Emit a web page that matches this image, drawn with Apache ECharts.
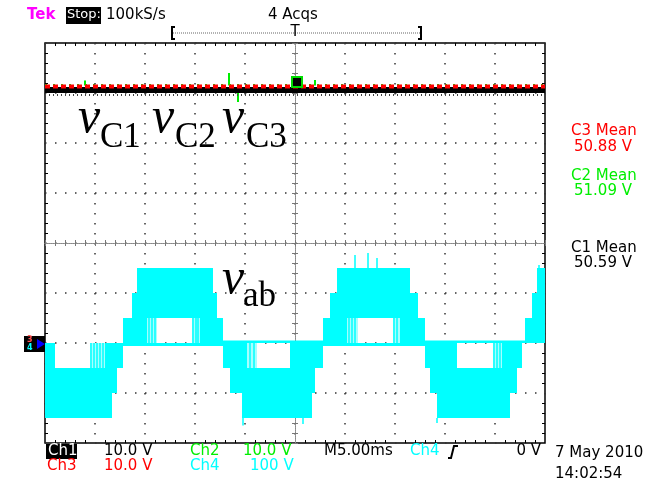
<!DOCTYPE html>
<html><head><meta charset="utf-8">
<script src="https://cdn.jsdelivr.net/npm/echarts@6/dist/echarts.min.js"></script>
<style>html,body{margin:0;padding:0;background:#fff}#c{width:659px;height:482px}</style>
</head><body><div id="c"></div>
<script>
// ---- Data ----
// time axis: 0..50 ms (5 ms/div); Ch4 axis: volts (100 V/div, ground 2 div below centre)
// Ch4 (v_ab) dense envelope blocks: [tStart ms, tEnd ms, vLow V, vHigh V]
const ch4Blocks = [
  [0.0, 1.0, -150, 0], [1.0, 6.7, -150, -50], [6.7, 7.2, -100, -50], [6.0, 7.8, -50, 0],
  [7.8, 8.7, 0, 50], [8.7, 9.2, 0, 100], [9.2, 10.2, 0, 150], [10.2, 16.8, 50, 150],
  [15.5, 17.8, 0, 50], [16.8, 17.2, 0, 100], [7.8, 17.8, -6, 0],
  [17.8, 18.5, -50, 0], [18.5, 19.7, -100, 0], [19.7, 20.2, -150, 0], [20.2, 24.5, -150, -50],
  [17.8, 27.8, 0, 5],
  [24.5, 26.7, -150, 0], [26.7, 27.0, -100, 0], [27.0, 27.8, -50, 0],
  [27.8, 28.5, 0, 50], [28.5, 29.2, 0, 100], [29.2, 30.2, 0, 150], [30.2, 36.5, 50, 150],
  [35.5, 38.0, 0, 50], [36.5, 37.3, 0, 100], [27.8, 38.0, -6, 0],
  [38.0, 38.5, -50, 0], [38.5, 39.2, -100, 0], [39.2, 41.2, -150, 0], [41.2, 46.5, -150, -50],
  [45.7, 47.7, -50, 0], [46.5, 47.2, -100, -50], [38.0, 48.0, 0, 5],
  [48.0, 48.7, 0, 50], [48.7, 49.2, 0, 100], [49.2, 50.0, 0, 150]
];
// Ch4 sparse (light) switching regions: [tStart, tEnd, vLow, vHigh]
const ch4LightBlocks = [
  [4.5, 6.0, -50, 0], [10.2, 11.2, 0, 50], [14.7, 15.5, 0, 50], [19.2, 21.2, -50, 0],
  [30.2, 31.3, 0, 50], [34.8, 35.5, 0, 50], [44.8, 45.7, -50, 0]
];
// Ch4 single spikes: [t ms, vLow, vHigh]
const ch4Spikes = [
  [4.6, -50, 0], [4.9, -52, 0], [5.2, -50, 0], [5.5, -50, 0], [5.8, -52, 0],
  [10.4, 0, 50], [10.7, 0, 50], [11.0, 0, 52], [14.8, 0, 50], [15.1, 0, 50], [15.3, 0, 52],
  [19.4, -50, 0], [19.8, -165, -100], [20.1, -50, 0], [20.5, -50, 0], [20.9, -50, 0],
  [25.8, -162, -150], [30.4, 0, 50], [30.7, 0, 50], [31.0, 150, 176], [31.0, 0, 50],
  [32.3, 150, 180], [33.2, 150, 170], [34.9, 0, 50], [35.2, 0, 50],
  [39.2, -160, -150], [44.9, -50, 0], [45.2, -50, 0], [45.5, -50, 0], [49.4, 150, 156]
];
// Ch1..Ch3 capacitor voltages (V, 10 V/div), drawn as their traces
const c1Trace = [[0, 50.6], [50, 50.6]];
const c1Lower = [[0, 49.6], [50, 49.6]];
const c2Trace = [[0, 51.5], [50, 51.5]];
const c3Trace = [[0, 51.3], [50, 51.3]];
const c2Spikes = [[18.4, 51.5, 54.0], [19.3, 48.2, 50.6], [4.0, 51.5, 52.5], [27.0, 51.5, 52.6]];
const meanLabels = ['C3 Mean', '50.88 V', 'C2 Mean', '51.09 V', 'C1 Mean', '50.59 V'];
const bottomRow1 = ['Ch1', '10.0 V', 'Ch2', '10.0 V', 'M5.00ms', 'Ch4', '0 V'];
const bottomRow2 = ['Ch3', '10.0 V', 'Ch4', '100 V'];

const CYAN = '#00ffff', LIGHT = '#a6ffff', RED = '#ff0000', GREEN = '#00ee00', MAG = '#ff00ff';
const FONT = '15px "DejaVu Sans"';

const chart = echarts.init(document.getElementById('c'), null, {renderer: 'canvas'});

function rectSeries(data, color, yIdx) {
  return {
    type: 'custom', coordinateSystem: 'cartesian2d', xAxisIndex: 1, yAxisIndex: yIdx,
    data: data, encode: {x: [0, 1], y: [2, 3]}, clip: true, silent: true,
    renderItem: function (params, api) {
      const a = api.coord([api.value(0), api.value(3)]);
      const b = api.coord([api.value(1), api.value(2)]);
      return {type: 'rect', shape: {x: a[0], y: a[1], width: b[0] - a[0], height: b[1] - a[1]},
              style: {fill: color}};
    }
  };
}
function spikeSeries(data, color, yIdx, w) {
  return {
    type: 'custom', coordinateSystem: 'cartesian2d', xAxisIndex: 1, yAxisIndex: yIdx,
    data: data, encode: {x: 0, y: [1, 2]}, clip: true, silent: true,
    renderItem: function (params, api) {
      const a = api.coord([api.value(0), api.value(1)]);
      const b = api.coord([api.value(0), api.value(2)]);
      return {type: 'line', shape: {x1: a[0], y1: a[1], x2: b[0], y2: b[1]},
              style: {stroke: color, lineWidth: w}};
    }
  };
}
function traceSeries(data, color, width, type) {
  return {type: 'line', xAxisIndex: 1, yAxisIndex: 2, data: data, symbol: 'none', silent: true,
          lineStyle: {color: color, width: width, type: type || 'solid'}};
}

const gridDots = {show: true, lineStyle: {color: '#333', width: 1.5, type: [1.5, 8.5]}};
const centerAxisLine = {show: true, onZero: true, onZeroAxisIndex: 0,
                        lineStyle: {color: '#888', width: 1, type: [1, 1]}};
function frameX(pos) {
  return {type: 'value', gridIndex: 0, position: pos, min: -5, max: 5, interval: 1,
          axisLine: {show: false, onZero: false}, axisTick: {show: false, inside: true},
          minorTick: {show: true, splitNumber: 5, length: 3, lineStyle: {color: '#000', width: 1}},
          axisLabel: {show: false}, splitLine: pos === 'bottom' ? gridDots : {show: false}};
}
function frameY(pos) {
  return {type: 'value', gridIndex: 0, position: pos, min: -4, max: 4, interval: 1,
          axisLine: {show: false, onZero: false}, axisTick: {show: false, inside: true},
          minorTick: {show: true, splitNumber: 5, length: 3, lineStyle: {color: '#000', width: 1}},
          axisLabel: {show: false}, splitLine: pos === 'left' ? gridDots : {show: false}};
}
function centerX(inside) {
  return {type: 'value', gridIndex: 0, position: 'bottom', min: -5, max: 5, interval: 1,
          axisLine: centerAxisLine,
          axisTick: {show: true, inside: inside, length: 3, lineStyle: {color: '#777'}},
          minorTick: {show: true, splitNumber: 5, length: 3, lineStyle: {color: '#777'}},
          axisLabel: {show: false}, splitLine: {show: false}};
}
function centerY(inside) {
  return {type: 'value', gridIndex: 0, position: 'left', min: -4, max: 4, interval: 1,
          axisLine: centerAxisLine,
          axisTick: {show: true, inside: inside, length: 3, lineStyle: {color: '#777'}},
          minorTick: {show: true, splitNumber: 5, length: 3, lineStyle: {color: '#777'}},
          axisLabel: {show: false}, splitLine: {show: false}};
}

function txt(x, y, s, color, font, align) {
  return {type: 'text', x: x, y: y, silent: true, z: 100,
          style: {text: s, fill: color, font: font || FONT, textAlign: align || 'left',
                  textVerticalAlign: 'middle', align: align || 'left', verticalAlign: 'middle'}};
}
function box(x, y, w, h, fill, stroke) {
  return {type: 'rect', silent: true, z: 99, shape: {x: x, y: y, width: w, height: h},
          style: {fill: fill, stroke: stroke || null, lineWidth: stroke ? 2 : 0}};
}
const VF = 'italic 50px "Liberation Serif"', SF = '35px "Liberation Serif"';

const graphics = [
  txt(27, 15, 'Tek', MAG, 'bold 15px "DejaVu Sans"'),
  box(66, 7, 35, 17, '#000'),
  txt(67, 15, 'Stop:', '#fff', '13px "DejaVu Sans"'),
  txt(106, 15, '100kS/s', '#000'),
  txt(268, 15, '4 Acqs', '#000'),
  {type: 'line', silent: true, shape: {x1: 173, y1: 33, x2: 420, y2: 33},
   style: {stroke: '#666', lineWidth: 1, lineDash: [1, 1]}},
  {type: 'polyline', silent: true, shape: {points: [[175, 27], [172, 27], [172, 39], [175, 39]]},
   style: {stroke: '#000', lineWidth: 2, fill: null}},
  {type: 'polyline', silent: true, shape: {points: [[418, 27], [421, 27], [421, 39], [418, 39]]},
   style: {stroke: '#000', lineWidth: 2, fill: null}},
  txt(295, 32, 'T', '#000', '15px "DejaVu Sans"', 'center'),
  // right side measurements
  txt(571, 131, meanLabels[0], RED), txt(574, 147, meanLabels[1], RED),
  txt(571, 176, meanLabels[2], GREEN), txt(574, 191, meanLabels[3], GREEN),
  txt(571, 248, meanLabels[4], '#000'), txt(574, 263, meanLabels[5], '#000'),
  // bottom status
  box(46, 444, 31, 15, '#000'),
  txt(48, 451, bottomRow1[0], '#fff'),
  txt(104, 451, bottomRow1[1], '#000'),
  txt(190, 451, bottomRow1[2], GREEN),
  txt(243, 451, bottomRow1[3], GREEN),
  txt(324, 451, bottomRow1[4], '#000'),
  txt(410, 451, bottomRow1[5], CYAN),
  {type: 'polyline', silent: true, shape: {points: [[448, 458], [451, 458], [454, 446], [458, 446]]},
   style: {stroke: '#000', lineWidth: 2, fill: null}},
  txt(541, 451, bottomRow1[6], '#000', FONT, 'right'),
  txt(47, 466, bottomRow2[0], RED),
  txt(104, 466, bottomRow2[1], RED),
  txt(190, 466, bottomRow2[2], CYAN),
  txt(250, 466, bottomRow2[3], CYAN),
  txt(555, 453, '7 May 2010', '#000'),
  txt(555, 474, '14:02:54', '#000'),
  // ch4 ground marker
  box(24, 336, 21, 16, '#000'),
  txt(27, 340, '3', '#ff5050', 'bold 8px "DejaVu Sans"'),
  txt(27, 348, '4', CYAN, 'bold 8px "DejaVu Sans"'),
  {type: 'polygon', silent: true, z: 100, shape: {points: [[37, 339], [45, 344], [37, 349]]}, style: {fill: '#0000ff'}},
  // ch2 marker near centre
  box(292, 77, 10, 10, '#000', '#00dd00'),
  // annotations
  txt(78, 119, 'v', '#000', VF), txt(100, 138, 'C1', '#000', SF),
  txt(152, 119, 'v', '#000', VF), txt(175, 138, 'C2', '#000', SF),
  txt(222, 119, 'v', '#000', VF), txt(246, 138, 'C3', '#000', SF),
  txt(222, 280, 'v', '#000', VF), txt(243, 297, 'ab', '#000', SF)
];

chart.setOption({
  animation: false,
  backgroundColor: '#fff',
  grid: {left: 45, top: 43, width: 500, height: 400, show: true, borderColor: '#000', borderWidth: 1.5,
         backgroundColor: 'transparent'},
  xAxis: [frameX('bottom'), {type: 'value', gridIndex: 0, min: 0, max: 50, show: false},
          centerX(true), centerX(false), frameX('top')],
  yAxis: [frameY('left'), {type: 'value', gridIndex: 0, min: -200, max: 600, show: false},
          {type: 'value', gridIndex: 0, min: -20, max: 60, show: false},
          centerY(true), centerY(false), frameY('right')],
  series: [
    rectSeries(ch4LightBlocks, LIGHT, 1),
    rectSeries(ch4Blocks, CYAN, 1),
    spikeSeries(ch4Spikes, CYAN, 1, 1.5),
    traceSeries(c2Trace, GREEN, 3, [2, 6]),
    spikeSeries(c2Spikes, GREEN, 2, 2),
    traceSeries(c1Lower, '#444', 2, [1, 3]),
    traceSeries(c1Trace, '#000', 6),
    traceSeries(c3Trace, RED, 4, [5, 3])
  ],
  graphic: graphics
});
</script></body></html>
